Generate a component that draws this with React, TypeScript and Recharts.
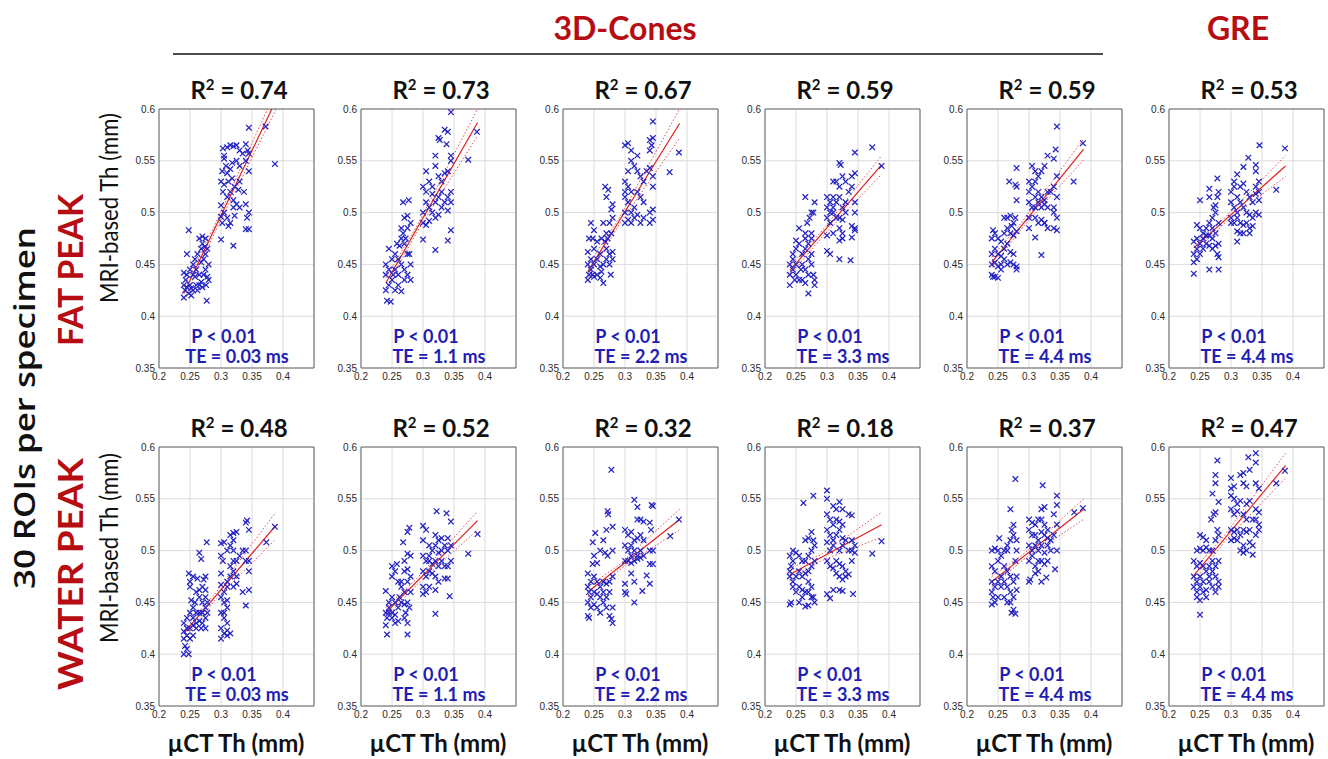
import { ComposedChart, Scatter, Line, XAxis, YAxis, CartesianGrid, ReferenceArea } from "recharts";

type Pt = [number, number];

// ---- labels ----
const teLabels = ["0.03", "1.1", "2.2", "3.3", "4.4", "4.4"];
const fatR2 = ["0.74", "0.73", "0.67", "0.59", "0.59", "0.53"];
const waterR2 = ["0.48", "0.52", "0.32", "0.18", "0.37", "0.47"];
const xTicks = [0.2, 0.25, 0.3, 0.35, 0.4];
const yTicks = [0.35, 0.4, 0.45, 0.5, 0.55, 0.6];

// ---- FAT PEAK scatter (µCT Th, MRI Th) ----
const fat003: Pt[] = [
  [.303,.562],[.305,.555],[.31,.563],[.315,.565],[.32,.564],[.325,.565],[.33,.56],[.34,.566],[.343,.56],[.335,.557],[.325,.55],[.318,.548],[.305,.552],[.302,.54],[.31,.538],[.3,.53],[.305,.527],[.312,.53],[.318,.533],[.322,.525],[.328,.522],[.315,.52],[.303,.52],[.31,.515],[.32,.512],[.33,.53],[.345,.54],[.337,.52],[.34,.55],[.345,.557],[.3,.507],[.305,.5],[.31,.495],[.315,.49],[.312,.487],[.32,.505],[.325,.508],[.33,.505],[.322,.497],[.34,.508],[.345,.5],[.342,.495],[.3,.496],[.302,.49],[.34,.484],[.345,.484],[.3,.474],[.32,.468],[.372,.583],[.345,.582],[.387,.547],[.308,.545],[.315,.542],[.33,.545],
  [.24,.43],[.242,.425],[.245,.428],[.248,.422],[.25,.43],[.252,.427],[.255,.425],[.24,.442],[.245,.44],[.25,.445],[.255,.44],[.243,.435],[.26,.43],[.262,.425],[.265,.43],[.268,.433],[.27,.428],[.272,.44],[.275,.445],[.278,.438],[.28,.435],[.276,.43],[.265,.44],[.268,.452],[.272,.455],[.275,.46],[.278,.465],[.27,.47],[.265,.475],[.27,.477],[.275,.475],[.268,.465],[.262,.46],[.258,.455],[.255,.45],[.26,.445],[.245,.46],[.248,.483],[.277,.415],[.252,.42],[.24,.418],[.258,.438],[.28,.45],[.274,.467],
];
const fat11: Pt[] = [
  [.345,.597],[.34,.578],[.335,.58],[.387,.578],[.373,.551],[.325,.572],[.327,.57],[.338,.566],[.345,.555],[.345,.55],[.32,.555],[.32,.545],[.305,.54],[.31,.53],[.3,.525],[.305,.52],[.315,.525],[.325,.535],[.33,.53],[.335,.538],[.34,.54],[.345,.52],[.34,.515],[.345,.51],[.305,.51],[.31,.505],[.3,.5],[.315,.5],[.32,.51],[.325,.515],[.33,.52],[.335,.51],[.31,.492],[.32,.495],[.3,.49],[.305,.488],[.34,.502],[.345,.483],[.34,.473],[.3,.474],[.32,.464],[.315,.518],[.33,.505],[.325,.498],
  [.24,.44],[.24,.425],[.242,.415],[.248,.414],[.245,.43],[.25,.435],[.245,.445],[.24,.45],[.25,.455],[.245,.465],[.255,.46],[.255,.445],[.26,.44],[.26,.43],[.265,.424],[.255,.425],[.265,.45],[.27,.445],[.27,.435],[.275,.44],[.28,.45],[.28,.435],[.275,.46],[.27,.47],[.265,.475],[.268,.48],[.262,.468],[.27,.495],[.275,.497],[.268,.51],[.277,.512],[.28,.49],[.275,.485],[.272,.475],[.278,.46],[.265,.485],[.26,.455],[.252,.44],[.258,.47],
];
const fat22: Pt[] = [
  [.345,.588],[.387,.558],[.372,.539],[.34,.57],[.345,.572],[.343,.565],[.34,.56],[.3,.565],[.305,.567],[.31,.56],[.32,.555],[.31,.55],[.305,.54],[.3,.53],[.305,.525],[.315,.545],[.32,.54],[.325,.535],[.33,.53],[.335,.54],[.34,.543],[.345,.535],[.345,.525],[.3,.515],[.305,.51],[.31,.52],[.32,.52],[.325,.515],[.33,.51],[.3,.5],[.31,.5],[.315,.495],[.32,.498],[.325,.49],[.33,.495],[.34,.49],[.345,.493],[.345,.503],[.3,.49],[.305,.493],[.31,.49],[.34,.5],[.3,.52],[.315,.505],
  [.24,.435],[.242,.44],[.245,.445],[.248,.44],[.25,.438],[.255,.44],[.26,.437],[.265,.432],[.24,.45],[.245,.455],[.25,.45],[.255,.455],[.26,.448],[.265,.45],[.27,.455],[.275,.45],[.28,.455],[.275,.46],[.28,.462],[.27,.465],[.26,.46],[.25,.465],[.24,.462],[.242,.475],[.248,.475],[.245,.49],[.25,.483],[.255,.472],[.262,.475],[.268,.472],[.27,.48],[.265,.49],[.272,.475],[.278,.48],[.268,.525],[.27,.515],[.273,.522],[.278,.503],[.28,.508],[.28,.495],[.275,.49],[.277,.44],[.262,.443],
];
const fat33: Pt[] = [
  [.373,.563],[.345,.558],[.388,.545],[.32,.548],[.322,.546],[.31,.53],[.315,.53],[.32,.525],[.325,.535],[.33,.53],[.34,.535],[.345,.538],[.34,.525],[.335,.52],[.3,.515],[.305,.51],[.31,.515],[.3,.505],[.305,.5],[.31,.505],[.315,.51],[.32,.515],[.325,.505],[.33,.51],[.345,.51],[.345,.5],[.3,.495],[.305,.49],[.315,.495],[.32,.495],[.325,.493],[.33,.5],[.34,.487],[.345,.485],[.345,.483],[.32,.485],[.325,.48],[.32,.473],[.325,.475],[.3,.478],[.31,.48],[.3,.463],[.305,.46],[.32,.455],[.338,.454],[.34,.476],[.31,.5],
  [.24,.43],[.24,.44],[.245,.445],[.24,.45],[.245,.455],[.25,.45],[.25,.44],[.255,.435],[.26,.435],[.265,.432],[.245,.46],[.25,.465],[.255,.47],[.26,.46],[.265,.465],[.26,.45],[.265,.445],[.27,.44],[.275,.45],[.278,.44],[.28,.435],[.28,.43],[.27,.422],[.27,.455],[.275,.46],[.27,.47],[.275,.475],[.265,.475],[.265,.48],[.275,.48],[.268,.49],[.272,.495],[.275,.5],[.278,.5],[.28,.51],[.265,.515],[.255,.485],[.25,.473],[.258,.445],[.248,.435],
];
const fat44: Pt[] = [
  [.345,.583],[.387,.567],[.343,.561],[.34,.552],[.372,.53],[.33,.555],[.325,.545],[.305,.545],[.31,.54],[.315,.535],[.32,.54],[.31,.53],[.305,.525],[.3,.52],[.31,.515],[.315,.52],[.32,.515],[.325,.512],[.33,.52],[.34,.525],[.345,.535],[.345,.515],[.3,.51],[.305,.505],[.31,.505],[.315,.51],[.32,.505],[.325,.508],[.33,.505],[.34,.505],[.3,.495],[.31,.495],[.315,.49],[.32,.493],[.325,.49],[.34,.5],[.345,.495],[.33,.485],[.345,.483],[.34,.485],[.3,.485],[.31,.476],[.32,.459],[.325,.49],[.335,.52],[.3,.53],
  [.24,.44],[.242,.438],[.245,.438],[.25,.437],[.24,.45],[.245,.452],[.25,.448],[.255,.45],[.24,.46],[.245,.465],[.25,.46],[.255,.458],[.26,.455],[.265,.45],[.27,.452],[.275,.45],[.28,.448],[.28,.445],[.275,.46],[.27,.462],[.26,.465],[.265,.47],[.24,.475],[.245,.48],[.242,.483],[.25,.475],[.255,.472],[.26,.48],[.265,.485],[.27,.48],[.275,.478],[.272,.487],[.275,.49],[.278,.495],[.27,.497],[.265,.495],[.26,.495],[.28,.482],[.28,.512],[.28,.525],[.278,.527],[.268,.53],[.28,.543],[.255,.445],
];
const fatGre: Pt[] = [
  [.346,.565],[.387,.562],[.328,.553],[.32,.544],[.34,.546],[.34,.54],[.31,.537],[.305,.53],[.3,.52],[.305,.525],[.31,.515],[.315,.525],[.32,.528],[.325,.52],[.33,.515],[.335,.51],[.34,.525],[.345,.53],[.345,.52],[.373,.522],[.3,.51],[.305,.505],[.31,.5],[.315,.51],[.32,.505],[.325,.5],[.33,.498],[.335,.495],[.34,.5],[.345,.498],[.345,.512],[.3,.495],[.305,.49],[.31,.495],[.315,.49],[.32,.488],[.325,.49],[.33,.485],[.335,.487],[.3,.49],[.31,.482],[.315,.48],[.32,.48],[.33,.48],[.31,.472],[.34,.518],
  [.24,.441],[.24,.452],[.245,.455],[.24,.46],[.245,.465],[.25,.46],[.255,.465],[.24,.472],[.245,.475],[.25,.47],[.255,.475],[.26,.47],[.265,.468],[.27,.465],[.275,.468],[.278,.46],[.28,.457],[.245,.488],[.25,.485],[.255,.48],[.26,.485],[.265,.478],[.27,.475],[.275,.48],[.28,.47],[.265,.49],[.27,.495],[.275,.5],[.272,.505],[.275,.507],[.265,.515],[.265,.523],[.278,.515],[.28,.52],[.278,.533],[.25,.512],[.265,.445],[.28,.445],[.26,.478],[.27,.485],[.28,.49],
];

// ---- WATER PEAK scatter ----
const wat003: Pt[] = [
  [.387,.523],[.373,.508],[.345,.52],[.34,.527],[.342,.529],[.32,.517],[.315,.515],[.32,.51],[.325,.518],[.315,.505],[.32,.5],[.3,.507],[.305,.508],[.31,.5],[.3,.495],[.303,.49],[.32,.49],[.325,.49],[.33,.495],[.335,.5],[.34,.49],[.345,.49],[.34,.5],[.315,.485],[.32,.48],[.325,.475],[.315,.475],[.31,.47],[.3,.478],[.3,.467],[.305,.46],[.31,.465],[.32,.465],[.325,.468],[.335,.46],[.345,.462],[.345,.48],[.34,.447],[.3,.455],[.305,.45],[.31,.445],[.3,.44],[.305,.435],[.31,.43],[.3,.425],[.305,.42],[.31,.423],[.315,.42],[.3,.415],[.31,.418],[.305,.44],[.31,.452],
  [.24,.4],[.245,.405],[.248,.4],[.242,.408],[.24,.415],[.245,.418],[.25,.415],[.255,.418],[.24,.422],[.245,.425],[.25,.425],[.255,.428],[.26,.43],[.265,.432],[.26,.425],[.24,.43],[.245,.435],[.25,.44],[.255,.445],[.26,.44],[.265,.44],[.27,.44],[.275,.445],[.278,.44],[.275,.435],[.27,.43],[.275,.425],[.27,.45],[.275,.455],[.278,.45],[.265,.455],[.26,.46],[.265,.462],[.27,.465],[.275,.462],[.272,.472],[.275,.475],[.25,.465],[.25,.47],[.248,.478],[.255,.475],[.262,.473],[.265,.498],[.268,.492],[.277,.508],[.252,.452],[.258,.45],[.268,.425],[.255,.435],
];
const wat11: Pt[] = [
  [.388,.516],[.373,.497],[.322,.538],[.338,.536],[.345,.528],[.3,.524],[.305,.52],[.32,.515],[.325,.51],[.33,.512],[.34,.512],[.345,.505],[.3,.51],[.31,.505],[.315,.5],[.32,.505],[.325,.498],[.33,.5],[.335,.505],[.34,.5],[.3,.495],[.305,.49],[.31,.49],[.32,.49],[.325,.485],[.33,.49],[.335,.485],[.34,.485],[.345,.49],[.3,.48],[.305,.475],[.31,.48],[.315,.478],[.32,.475],[.325,.47],[.335,.473],[.34,.473],[.3,.465],[.305,.46],[.3,.458],[.31,.465],[.32,.462],[.343,.456],[.32,.439],[.31,.495],[.315,.487],
  [.24,.461],[.24,.44],[.242,.435],[.245,.44],[.24,.428],[.242,.419],[.245,.445],[.25,.44],[.25,.435],[.255,.438],[.255,.43],[.26,.432],[.245,.45],[.25,.455],[.255,.45],[.26,.445],[.262,.455],[.265,.45],[.27,.448],[.275,.45],[.278,.445],[.272,.44],[.27,.435],[.275,.43],[.275,.419],[.25,.475],[.255,.48],[.25,.485],[.258,.487],[.26,.47],[.265,.465],[.27,.46],[.275,.47],[.27,.48],[.275,.482],[.28,.475],[.28,.495],[.275,.497],[.268,.508],[.275,.518],[.278,.522],[.265,.47],[.28,.46],[.27,.49],
];
const wat22: Pt[] = [
  [.278,.578],[.315,.549],[.32,.542],[.343,.544],[.345,.543],[.387,.53],[.373,.514],[.32,.53],[.325,.53],[.33,.528],[.34,.527],[.342,.52],[.3,.52],[.305,.515],[.31,.518],[.315,.51],[.32,.512],[.325,.515],[.33,.51],[.3,.505],[.305,.5],[.31,.505],[.315,.5],[.32,.495],[.325,.5],[.33,.495],[.34,.5],[.345,.5],[.3,.49],[.305,.49],[.31,.488],[.315,.49],[.32,.492],[.325,.493],[.345,.487],[.34,.487],[.335,.476],[.34,.468],[.3,.468],[.3,.46],[.302,.458],[.315,.47],[.328,.461],[.315,.45],[.31,.478],[.31,.495],
  [.272,.538],[.273,.535],[.27,.52],[.28,.523],[.265,.51],[.26,.5],[.268,.498],[.272,.495],[.28,.5],[.252,.517],[.248,.508],[.25,.495],[.255,.488],[.248,.487],[.24,.478],[.245,.47],[.25,.475],[.255,.47],[.26,.465],[.265,.47],[.27,.468],[.275,.47],[.28,.475],[.24,.465],[.242,.46],[.245,.455],[.25,.46],[.255,.458],[.26,.455],[.265,.46],[.27,.455],[.275,.46],[.24,.45],[.245,.445],[.25,.448],[.255,.445],[.24,.437],[.242,.435],[.26,.44],[.27,.445],[.275,.437],[.278,.434],[.28,.43],[.28,.445],[.265,.45],
];
const wat33: Pt[] = [
  [.3,.558],[.3,.55],[.32,.547],[.31,.543],[.315,.54],[.325,.54],[.3,.535],[.305,.53],[.31,.525],[.315,.53],[.32,.528],[.325,.525],[.335,.535],[.34,.534],[.3,.52],[.305,.515],[.31,.51],[.315,.515],[.32,.52],[.325,.512],[.33,.51],[.34,.51],[.345,.505],[.3,.508],[.305,.5],[.31,.505],[.32,.5],[.325,.505],[.335,.5],[.34,.5],[.345,.498],[.373,.497],[.388,.509],[.3,.49],[.305,.485],[.315,.49],[.32,.487],[.325,.485],[.33,.48],[.34,.49],[.32,.475],[.325,.472],[.33,.475],[.335,.477],[.32,.462],[.325,.461],[.3,.458],[.305,.454],[.31,.462],[.342,.458],[.315,.478],[.31,.483],
  [.262,.546],[.278,.553],[.24,.48],[.242,.485],[.245,.49],[.24,.495],[.245,.5],[.25,.498],[.255,.495],[.26,.49],[.265,.49],[.27,.495],[.265,.51],[.27,.512],[.275,.518],[.278,.51],[.28,.505],[.275,.5],[.24,.475],[.245,.47],[.25,.475],[.255,.48],[.26,.475],[.265,.478],[.27,.48],[.275,.485],[.28,.49],[.245,.465],[.25,.46],[.255,.465],[.26,.462],[.265,.46],[.27,.46],[.275,.455],[.278,.455],[.28,.45],[.27,.447],[.265,.446],[.24,.448],[.242,.45],[.255,.45],[.26,.455],[.275,.465],[.27,.47],
];
const wat44: Pt[] = [
  [.278,.569],[.322,.563],[.345,.553],[.345,.544],[.387,.541],[.373,.537],[.32,.54],[.325,.542],[.3,.53],[.305,.527],[.31,.525],[.315,.53],[.32,.53],[.325,.525],[.33,.52],[.34,.535],[.345,.525],[.3,.52],[.305,.515],[.31,.515],[.315,.51],[.32,.518],[.325,.515],[.33,.512],[.335,.51],[.34,.515],[.3,.505],[.305,.5],[.31,.505],[.315,.5],[.32,.505],[.325,.498],[.335,.5],[.345,.5],[.3,.49],[.305,.495],[.31,.485],[.315,.49],[.32,.49],[.325,.487],[.33,.49],[.3,.47],[.302,.472],[.31,.478],[.315,.48],[.32,.47],[.328,.474],[.342,.482],[.33,.505],
  [.24,.47],[.24,.46],[.242,.455],[.24,.448],[.245,.45],[.25,.455],[.245,.465],[.25,.47],[.255,.475],[.24,.485],[.245,.48],[.25,.49],[.24,.5],[.245,.502],[.25,.5],[.255,.495],[.252,.512],[.26,.5],[.265,.505],[.27,.51],[.275,.515],[.272,.52],[.275,.525],[.27,.54],[.265,.5],[.26,.485],[.265,.48],[.27,.475],[.275,.47],[.28,.475],[.278,.49],[.28,.5],[.26,.47],[.265,.465],[.27,.46],[.275,.455],[.26,.455],[.265,.45],[.27,.45],[.275,.443],[.272,.44],[.278,.439],[.28,.462],[.28,.51],[.255,.465],
];
const watGre: Pt[] = [
  [.34,.594],[.328,.59],[.34,.585],[.33,.578],[.32,.575],[.315,.573],[.3,.57],[.32,.565],[.325,.562],[.34,.565],[.345,.56],[.3,.56],[.305,.562],[.387,.577],[.373,.565],[.3,.553],[.305,.55],[.31,.545],[.315,.548],[.325,.545],[.33,.548],[.34,.54],[.345,.537],[.3,.54],[.305,.535],[.31,.538],[.32,.535],[.325,.53],[.335,.53],[.34,.53],[.345,.525],[.3,.52],[.305,.518],[.31,.52],[.315,.515],[.32,.52],[.325,.518],[.33,.52],[.34,.515],[.345,.52],[.3,.51],[.31,.51],[.32,.505],[.325,.5],[.315,.5],[.32,.498],[.335,.505],[.335,.496],[.305,.512],[.33,.508],
  [.278,.587],[.275,.573],[.275,.565],[.27,.555],[.275,.537],[.272,.535],[.28,.547],[.268,.53],[.278,.52],[.275,.51],[.28,.515],[.25,.515],[.255,.513],[.26,.51],[.245,.5],[.25,.502],[.255,.5],[.26,.503],[.265,.5],[.27,.5],[.24,.49],[.245,.485],[.25,.488],[.255,.485],[.26,.48],[.265,.485],[.27,.49],[.275,.485],[.28,.49],[.24,.475],[.245,.47],[.25,.475],[.255,.47],[.265,.475],[.27,.48],[.275,.475],[.28,.47],[.24,.465],[.245,.46],[.25,.465],[.255,.46],[.26,.462],[.265,.47],[.27,.465],[.275,.46],[.28,.465],[.245,.455],[.25,.452],[.26,.455],[.25,.438],
];

// ---- regression lines and 95% bands ----
const fatFit: Pt[][] = [
  [[.24,.422],[.382,.6]], [[.24,.432],[.388,.587]], [[.24,.443],[.388,.586]],
  [[.24,.444],[.388,.546]], [[.24,.452],[.388,.561]], [[.24,.466],[.388,.545]],
];
const fatUpper: Pt[][] = [
  [[.24,.428],[.29,.488],[.375,.6]], [[.24,.437],[.29,.487],[.388,.6]], [[.24,.449],[.29,.494],[.388,.6]],
  [[.24,.449],[.29,.481],[.388,.555]], [[.24,.457],[.29,.492],[.388,.571]], [[.24,.471],[.29,.495],[.388,.555]],
];
const fatLower: Pt[][] = [
  [[.24,.416],[.29,.481],[.389,.6]], [[.24,.427],[.29,.481],[.388,.574]], [[.24,.437],[.29,.488],[.388,.572]],
  [[.24,.439],[.29,.475],[.388,.537]], [[.24,.447],[.29,.486],[.388,.551]], [[.24,.461],[.29,.49],[.388,.535]],
];
const watFit: Pt[][] = [
  [[.24,.42],[.388,.524]], [[.24,.44],[.388,.529]], [[.24,.46],[.388,.53]],
  [[.24,.477],[.388,.525]], [[.24,.47],[.388,.54]], [[.24,.476],[.388,.582]],
];
const watUpper: Pt[][] = [
  [[.24,.426],[.29,.458],[.388,.537]], [[.24,.445],[.29,.473],[.388,.538]], [[.24,.465],[.29,.486],[.388,.54]],
  [[.24,.483],[.29,.496],[.388,.537]], [[.24,.475],[.29,.496],[.388,.55]], [[.24,.482],[.29,.515],[.388,.594]],
];
const watLower: Pt[][] = [
  [[.24,.414],[.29,.452],[.388,.511]], [[.24,.435],[.29,.467],[.388,.52]], [[.24,.455],[.29,.481],[.388,.52]],
  [[.24,.471],[.29,.49],[.388,.513]], [[.24,.465],[.29,.491],[.388,.53]], [[.24,.47],[.29,.509],[.388,.57]],
];

const fatPoints = [fat003, fat11, fat22, fat33, fat44, fatGre];
const watPoints = [wat003, wat11, wat22, wat33, wat44, watGre];

// layout (plot-area boxes)
const colLeft = [159, 361, 563, 765, 967, 1169];
const rowTop = [109, 447];
const PW = 155;
const PH = 259;
const YW = 38;
const MT = 6;

const RED = "#b50d12";
const BLUE = "#1e1eb4";
const FONT = "Lato, 'Open Sans', sans-serif";

const toObj = (pts: Pt[]) => pts.map(([x, y]) => ({ x, y }));

const Cross = (p: any) => {
  const { cx, cy } = p;
  if (cx == null || cy == null) return <g />;
  const r = 2.8;
  return (
    <path
      d={`M${cx - r},${cy - r}L${cx + r},${cy + r}M${cx - r},${cy + r}L${cx + r},${cy - r}`}
      stroke="#2424c4"
      strokeWidth={1.25}
      fill="none"
    />
  );
};

function Panel({ left, top, pts, fit, up, lo }: { left: number; top: number; pts: Pt[]; fit: Pt[]; up: Pt[]; lo: Pt[] }) {
  const tickStyle = { fontSize: 10, fill: "#2a2a2a", fontFamily: "'Liberation Sans', Arial, sans-serif" };
  return (
    <div style={{ position: "absolute", left: left - YW, top: top - MT }}>
      <ComposedChart width={YW + PW + 6} height={MT + PH + 22} margin={{ top: MT, right: 6, bottom: 0, left: 0 }}>
        <CartesianGrid stroke="#dcdcdc" strokeWidth={1} />
        <XAxis
          type="number"
          dataKey="x"
          domain={[0.2, 0.45]}
          ticks={xTicks}
          allowDataOverflow
          height={22}
          tickLine={false}
          axisLine={false}
          tickSize={3}
          tick={tickStyle}
        />
        <YAxis
          type="number"
          dataKey="y"
          domain={[0.35, 0.6]}
          ticks={yTicks}
          allowDataOverflow
          width={YW}
          tickLine={false}
          axisLine={false}
          tickSize={2}
          tick={tickStyle}
        />
        <ReferenceArea x1={0.2} x2={0.45} y1={0.35} y2={0.6} fill="none" stroke="#666" strokeWidth={1} ifOverflow="visible" />
        <Scatter data={toObj(pts)} shape={Cross} isAnimationActive={false} />
        <Line data={toObj(up)} dataKey="y" stroke="#e05050" strokeWidth={1} strokeDasharray="1.5 2" dot={false} isAnimationActive={false} />
        <Line data={toObj(lo)} dataKey="y" stroke="#e05050" strokeWidth={1} strokeDasharray="1.5 2" dot={false} isAnimationActive={false} />
        <Line data={toObj(fit)} dataKey="y" stroke="#e0201c" strokeWidth={1.2} dot={false} isAnimationActive={false} />
      </ComposedChart>
    </div>
  );
}

export default function App() {
  const rows = [
    { top: rowTop[0], pts: fatPoints, fit: fatFit, up: fatUpper, lo: fatLower, r2: fatR2 },
    { top: rowTop[1], pts: watPoints, fit: watFit, up: watUpper, lo: watLower, r2: waterR2 },
  ];
  return (
    <div style={{ position: "absolute", left: 0, top: 0, width: 1328, height: 759, background: "#fff", fontFamily: FONT, overflow: "hidden" }}>
      {rows.map((row, ri) =>
        colLeft.map((l, ci) => (
          <Panel key={`${ri}-${ci}`} left={l} top={row.top} pts={row.pts[ci]} fit={row.fit[ci]} up={row.up[ci]} lo={row.lo[ci]} />
        ))
      )}
      <svg width={1328} height={759} style={{ position: "absolute", left: 0, top: 0, pointerEvents: "none" }}>
        {/* header */}
        <text x={625} y={40} textAnchor="middle" fontFamily={FONT} fontWeight={700} fontSize={32} fill={RED}>3D-Cones</text>
        <text x={1238} y={40} textAnchor="middle" fontFamily={FONT} fontWeight={700} fontSize={32} fill={RED}>GRE</text>
        <line x1={173} x2={1103} y1={54} y2={54} stroke="#111" strokeWidth={1.5} />

        {/* left labels */}
        <text transform="translate(24,408) rotate(-90)" textAnchor="middle" dominantBaseline="central" fontFamily="'Open Sans', Lato, sans-serif" fontWeight={600} fontSize={28} textLength={362} lengthAdjust="spacingAndGlyphs" fill="#111">30 ROIs per specimen</text>
        <text transform="translate(69,270) rotate(-90)" textAnchor="middle" dominantBaseline="central" fontFamily={FONT} fontWeight={700} fontSize={34} textLength={152} lengthAdjust="spacingAndGlyphs" fill={RED}>FAT PEAK</text>
        <text transform="translate(69,574) rotate(-90)" textAnchor="middle" dominantBaseline="central" fontFamily={FONT} fontWeight={700} fontSize={34} textLength={232} lengthAdjust="spacingAndGlyphs" fill={RED}>WATER PEAK</text>
        {[208, 548].map((cy) => (
          <text key={cy} transform={`translate(108,${cy}) rotate(-90)`} textAnchor="middle" dominantBaseline="central" fontFamily={FONT} fontSize={25} textLength={190} lengthAdjust="spacingAndGlyphs" fill="#111">MRI-based Th (mm)</text>
        ))}

        {/* per-panel titles and notes */}
        {rows.map((row, ri) =>
          colLeft.map((l, ci) => (
            <g key={`t${ri}-${ci}`}>
              <text x={l + 80} y={row.top - 10} textAnchor="middle" fontFamily={FONT} fontWeight={700} fontSize={24} fill="#111">
                R<tspan dy={-9} fontSize={15}>2</tspan><tspan dy={9}>{` = ${row.r2[ci]}`}</tspan>
              </text>
              <text x={l + 65} y={row.top + 234} textAnchor="middle" fontFamily={FONT} fontWeight={700} fontSize={18} fill={BLUE}>P &lt; 0.01</text>
              <text x={l + 78} y={row.top + 254} textAnchor="middle" fontFamily={FONT} fontWeight={700} fontSize={18} fill={BLUE}>{`TE = ${teLabels[ci]} ms`}</text>
            </g>
          ))
        )}

        {/* x-axis titles */}
        {colLeft.map((l) => (
          <text key={`xl${l}`} x={l + 77} y={752} textAnchor="middle" fontFamily={FONT} fontWeight={700} fontSize={24} fill="#111">µCT Th (mm)</text>
        ))}
      </svg>
    </div>
  );
}
